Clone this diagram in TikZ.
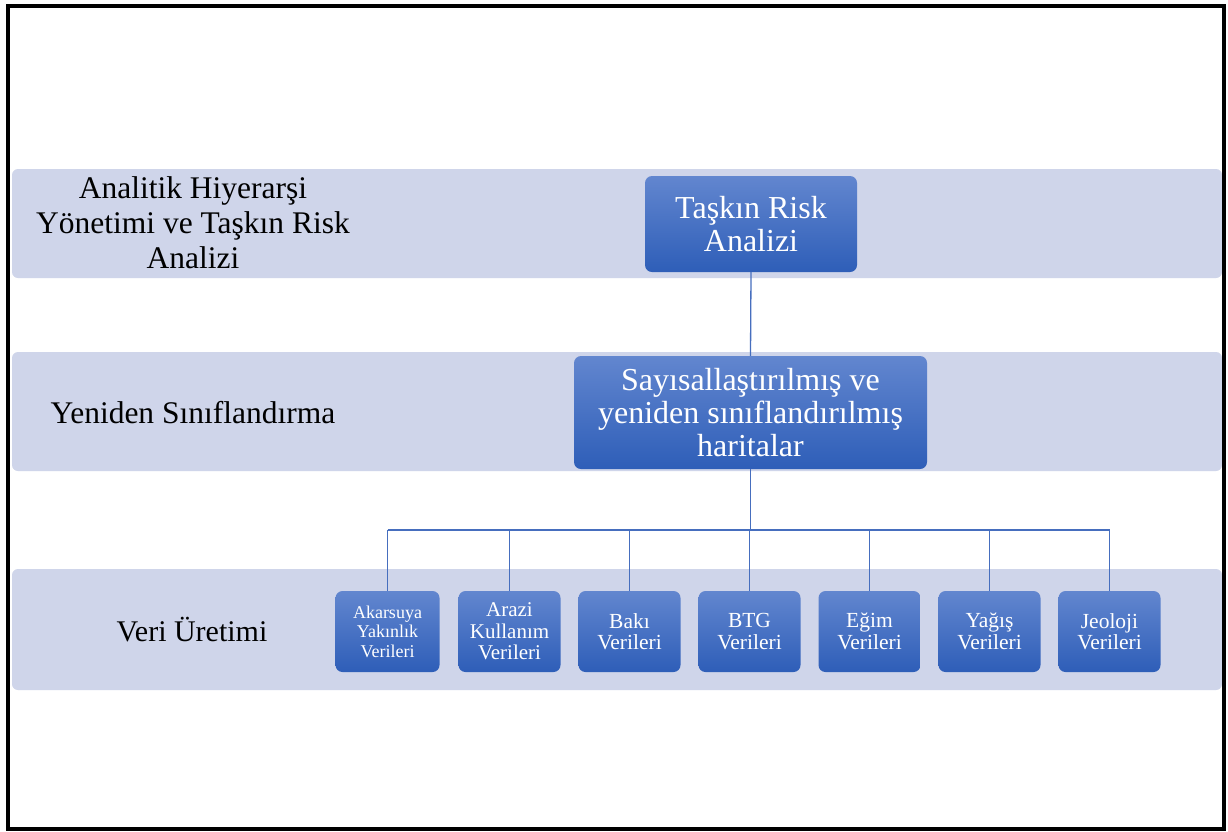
\documentclass[tikz,border=0pt]{standalone}
\usepackage{fontspec}
\setmainfont{Liberation Serif}
\begin{document}
\begin{tikzpicture}[x=1pt,y=-1pt,
  band/.style={fill=bandc, draw=none, rounded corners=6},
  box/.style={rounded corners=7, top color=boxtop, bottom color=boxbot, draw=none,
    text=white, align=center, inner sep=0pt},
  lab/.style={align=center, text=black, inner sep=0pt},
  conn/.style={draw=connc, line width=1.3}]
\definecolor{bandc}{RGB}{207,213,234}
\definecolor{boxtop}{RGB}{98,134,207}
\definecolor{boxbot}{RGB}{46,94,184}
\definecolor{connc}{RGB}{70,110,190}
\useasboundingbox (0,0) rectangle (1228,831);
\fill[white] (0,0) rectangle (1228,831);
% bands
\fill[band] (12,169) rectangle (1222,278);
\fill[band] (12,352) rectangle (1222,471);
\fill[band] (12,569) rectangle (1222,690);
% frame
\draw[black, line width=3.5] (8,6) rectangle (1224,829);
% left labels
\node[lab, font=\fontsize{31.5}{35}\selectfont] (l1) at (193,223) {Analitik Hiyerarşi\\Yönetimi ve Taşkın Risk\\Analizi};
\node[lab, font=\fontsize{31.5}{35}\selectfont] (l2) at (193,413) {Yeniden Sınıflandırma};
\node[lab, font=\fontsize{30}{34}\selectfont] (l3) at (192,630) {Veri Üretimi};
% boxes
\node[box, minimum width=212, minimum height=96, font=\fontsize{32}{33}\selectfont] (t) at (751,224) {Taşkın Risk\\Analizi};
\node[box, minimum width=353, minimum height=113, font=\fontsize{32}{33}\selectfont] (m) at (750.5,412.5) {Sayısallaştırılmış ve\\yeniden sınıflandırılmış\\haritalar};
\node[box, minimum width=104, minimum height=81, font=\fontsize{18}{19.5}\selectfont] (b1) at (387.5,631.5) {Akarsuya\\Yakınlık\\Verileri};
\node[box, minimum width=102, minimum height=81, font=\fontsize{21}{21.5}\selectfont] (b2) at (509.5,631.5) {Arazi\\Kullanım\\Verileri};
\node[box, minimum width=102, minimum height=81, font=\fontsize{21.5}{21.5}\selectfont] (b3) at (629.5,631.5) {Bakı\\Verileri};
\node[box, minimum width=102, minimum height=81, font=\fontsize{21.5}{21.5}\selectfont] (b4) at (749.5,631.5) {BTG\\Verileri};
\node[box, minimum width=102, minimum height=81, font=\fontsize{21.5}{21.5}\selectfont] (b5) at (869.5,631.5) {Eğim\\Verileri};
\node[box, minimum width=102, minimum height=81, font=\fontsize{21.5}{21.5}\selectfont] (b6) at (989.5,631.5) {Yağış\\Verileri};
\node[box, minimum width=102, minimum height=81, font=\fontsize{21.5}{21.5}\selectfont] (b7) at (1109.5,631.5) {Jeoloji\\Verileri};
% connectors
\coordinate (bus) at (750.5,530);
\draw[conn] (t.south) -- (m.north);
\draw[conn] (m.south) -- (bus);
\draw[conn] (b1.north |- bus) -- (b7.north |- bus);
\foreach \i in {1,...,7} {\draw[conn] (b\i.north) -- (b\i.north |- bus);}
\end{tikzpicture}
\end{document}
